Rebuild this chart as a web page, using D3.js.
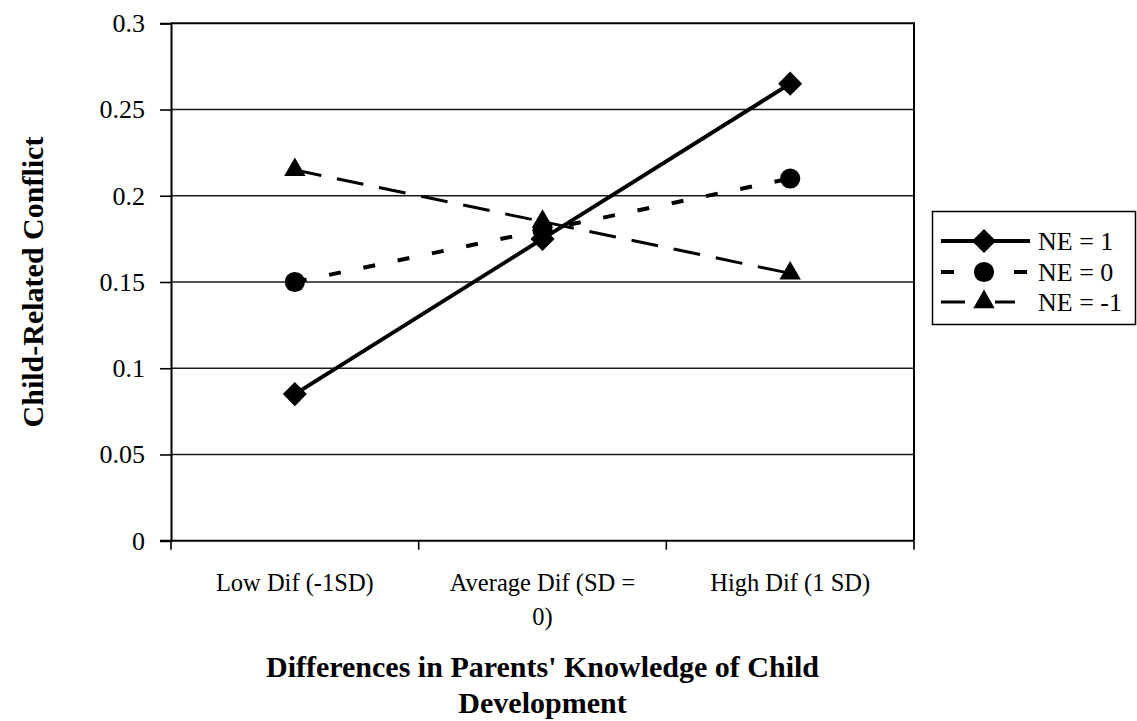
<!DOCTYPE html>
<html>
<head>
<meta charset="utf-8">
<script src="https://cdn.jsdelivr.net/npm/d3@7"></script>
<style>
  html, body { margin: 0; padding: 0; background: #fff; }
  svg { display: block; }
  text { font-family: "Liberation Serif", "Times New Roman", serif; fill: #000; }
</style>
</head>
<body>
<svg id="chart" width="1137" height="721"></svg>
<script>
// Categories along the x axis (label lines)
const categories = ["Low Dif (-1SD)", "Average Dif (SD = 0)", "High Dif (1 SD)"];
const categoryLines = [["Low Dif (-1SD)"], ["Average Dif (SD =", "0)"], ["High Dif (1 SD)"]];

// Series names and values
const seriesNames = ["NE = 1", "NE = 0", "NE = -1"];
const ne1 = [0.085, 0.175, 0.265];
const ne0 = [0.15, 0.18, 0.21];
const neMinus1 = [0.215, 0.185, 0.155];

// Y-axis ticks
const yTicks = [0, 0.05, 0.1, 0.15, 0.2, 0.25, 0.3];

const yTitle = "Child-Related Conflict";
const xTitleLines = ["Differences in Parents' Knowledge of Child", "Development"];

const svg = d3.select("#chart");

const plot = { left: 171, right: 914, top: 23.3, bottom: 540.7 };

const x = d3.scaleBand().domain(categories).range([plot.left, plot.right]).padding(0);
const xc = d => x(d) + x.bandwidth() / 2;
const y = d3.scaleLinear().domain([0, 0.3]).range([plot.bottom, plot.top]);

// Gridlines
svg.append("g")
  .selectAll("line")
  .data(yTicks.filter(t => t > 0 && t < 0.3))
  .join("line")
  .attr("x1", plot.left).attr("x2", plot.right)
  .attr("y1", d => y(d)).attr("y2", d => y(d))
  .attr("stroke", "#1a1a1a").attr("stroke-width", 1.4);

// Plot frame: top and right edges
svg.append("path")
  .attr("d", `M${plot.left},${y(0.3)}H${plot.right}V${plot.bottom}`)
  .attr("fill", "none").attr("stroke", "#000").attr("stroke-width", 2);

// Y axis
const yAxis = d3.axisLeft(y)
  .tickValues(yTicks)
  .tickSize(11)
  .tickPadding(15)
  .tickFormat(d3.format(".2~f"));
const gy = svg.append("g").attr("transform", `translate(${plot.left},0)`).call(yAxis);
gy.select(".domain").attr("stroke", "#000").attr("stroke-width", 2);
gy.selectAll(".tick line").attr("stroke", "#000").attr("stroke-width", 1.6);
gy.selectAll(".tick text")
  .style("font-family", '"Liberation Serif", serif')
  .style("font-size", "26px")
  .attr("fill", "#000");

// X axis baseline and ticks at category boundaries
const boundaries = categories.map(c => x(c)).concat([x(categories[categories.length - 1]) + x.bandwidth()]);
svg.append("line")
  .attr("x1", plot.left - 11).attr("x2", plot.right)
  .attr("y1", plot.bottom).attr("y2", plot.bottom)
  .attr("stroke", "#000").attr("stroke-width", 2);
svg.append("g").selectAll("line")
  .data(boundaries)
  .join("line")
  .attr("x1", d => d).attr("x2", d => d)
  .attr("y1", plot.bottom).attr("y2", plot.bottom + 9)
  .attr("stroke", "#000").attr("stroke-width", 1.6);

// Category labels
const catG = svg.append("g");
categories.forEach((c, i) => {
  const t = catG.append("text")
    .attr("x", xc(c))
    .attr("y", 591)
    .attr("text-anchor", "middle")
    .style("font-size", "24.5px");
  categoryLines[i].forEach((line, j) => {
    t.append("tspan").attr("x", xc(c)).attr("dy", j === 0 ? 0 : 34).text(line);
  });
});

// Axis titles
const xt = svg.append("text")
  .attr("x", (plot.left + plot.right) / 2)
  .attr("y", 677)
  .attr("text-anchor", "middle")
  .style("font-size", "30px")
  .style("font-weight", "bold");
xTitleLines.forEach((line, j) => {
  xt.append("tspan").attr("x", (plot.left + plot.right) / 2).attr("dy", j === 0 ? 0 : 36).text(line);
});

svg.append("text")
  .attr("transform", `translate(43,${(plot.top + plot.bottom) / 2}) rotate(-90)`)
  .attr("text-anchor", "middle")
  .style("font-size", "30px")
  .style("font-weight", "bold")
  .text(yTitle);

// Series definitions
const series = [
  { name: seriesNames[0], values: ne1, dash: null, width: 4, symbol: d3.symbolSquare, size: 290, rotate: 45,
    legendDash: null },
  { name: seriesNames[1], values: ne0, dash: "12,23", width: 4, symbol: d3.symbolCircle, size: 320, rotate: 0,
    legendDash: "13,60" },
  { name: seriesNames[2], values: neMinus1, dash: "27,16", width: 3, symbol: d3.symbolTriangle, size: 200, rotate: 0,
    legendDash: "24,30,20" }
];

const line = d3.line().x((d, i) => xc(categories[i])).y(d => y(d));

const seriesG = svg.append("g");
series.forEach(s => {
  seriesG.append("path")
    .datum(s.values)
    .attr("d", line)
    .attr("fill", "none")
    .attr("stroke", "#000")
    .attr("stroke-width", s.width)
    .attr("stroke-dasharray", s.dash);
  seriesG.selectAll(null)
    .data(s.values)
    .join("path")
    .attr("d", d3.symbol().type(s.symbol).size(s.size))
    .attr("transform", (d, i) => `translate(${xc(categories[i])},${y(d)}) rotate(${s.rotate})`)
    .attr("fill", "#000");
});

// Legend
const legend = svg.append("g");
legend.append("rect")
  .attr("x", 932.5).attr("y", 211.5)
  .attr("width", 203).attr("height", 113)
  .attr("fill", "#fff").attr("stroke", "#000").attr("stroke-width", 1.5);

const legendRows = [241, 272, 302];
series.forEach((s, i) => {
  const ly = legendRows[i];
  legend.append("line")
    .attr("x1", 941).attr("x2", 1030)
    .attr("y1", ly).attr("y2", ly)
    .attr("stroke", "#000")
    .attr("stroke-width", s.width)
    .attr("stroke-dasharray", s.legendDash);
  legend.append("path")
    .attr("d", d3.symbol().type(s.symbol).size(s.size))
    .attr("transform", `translate(984,${ly}) rotate(${s.rotate})`)
    .attr("fill", "#000");
  legend.append("text")
    .attr("x", 1038).attr("y", ly + 9)
    .style("font-size", "26px")
    .text(s.name);
});
</script>
</body>
</html>
